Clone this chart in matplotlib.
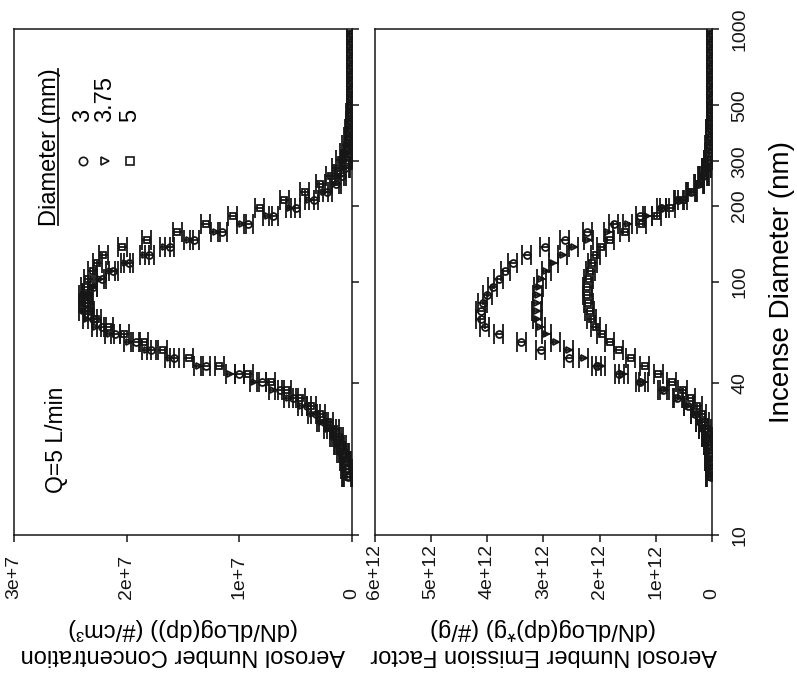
import numpy as np
import matplotlib.pyplot as plt
from matplotlib.ticker import NullLocator

plt.rcParams['font.family'] = ['Liberation Sans', 'DejaVu Sans']
plt.rcParams['xtick.labelsize'] = 14
plt.rcParams['ytick.labelsize'] = 14

# particle diameter channels (nm)
diameter = [17.0, 18.3, 19.6, 21.1, 22.7, 24.4, 26.2, 28.1, 30.2, 32.5,
            34.9, 37.5, 40.3, 43.3, 46.6, 50.0, 53.8, 57.8, 62.1, 66.7,
            71.7, 77.0, 82.8, 89.0, 95.6, 102.7, 110.4, 118.6, 127.5, 137.0,
            147.2, 158.2, 170.0, 182.7, 196.3, 211.0, 226.7, 243.6, 261.8, 281.3,
            302.3, 324.9, 349.1, 375.2, 403.1, 433.2, 465.6, 500.3, 537.6, 577.7,
            620.8, 667.2, 716.9, 770.4, 827.9, 889.7, 956.1]

# number concentration, units of 1e7 #/cm3
conc_3 = [0.04, 0.05, 0.06, 0.08, 0.11, 0.14, 0.18, 0.25, 0.32, 0.40,
          0.52, 0.64, 0.80, 1.00, 1.30, 1.58, 1.78, 1.92, 2.10, 2.22,
          2.30, 2.33, 2.35, 2.34, 2.30, 2.22, 2.12, 1.98, 1.80, 1.62,
          1.40, 1.15, 0.92, 0.70, 0.50, 0.34, 0.22, 0.14, 0.09, 0.06,
          0.04, 0.03, 0.02, 0.015, 0.012, 0.010, 0.008, 0.006, 0.005, 0.004,
          0.004, 0.003, 0.003, 0.002, 0.002, 0.002, 0.001]
conc_375 = [0.05, 0.06, 0.07, 0.09, 0.12, 0.16, 0.21, 0.27, 0.35, 0.44,
            0.56, 0.70, 0.87, 1.08, 1.36, 1.62, 1.82, 1.98, 2.15, 2.27,
            2.35, 2.38, 2.38, 2.35, 2.30, 2.24, 2.14, 2.01, 1.84, 1.66,
            1.45, 1.21, 0.98, 0.75, 0.55, 0.38, 0.25, 0.16, 0.11, 0.07,
            0.05, 0.035, 0.025, 0.018, 0.012, 0.010, 0.008, 0.006, 0.005, 0.004,
            0.004, 0.003, 0.003, 0.002, 0.002, 0.002, 0.001]
conc_5 = [0.03, 0.04, 0.05, 0.07, 0.09, 0.12, 0.16, 0.21, 0.28, 0.36,
          0.46, 0.58, 0.72, 0.92, 1.18, 1.45, 1.68, 1.85, 2.02, 2.16,
          2.27, 2.34, 2.37, 2.38, 2.37, 2.34, 2.30, 2.26, 2.21, 2.04,
          1.82, 1.55, 1.30, 1.06, 0.82, 0.60, 0.42, 0.28, 0.19, 0.14,
          0.10, 0.07, 0.045, 0.03, 0.02, 0.015, 0.010, 0.008, 0.006, 0.005,
          0.004, 0.004, 0.003, 0.003, 0.002, 0.002, 0.002]

# emission factor, units of 1e12 #/g
ef_3 = [0.02, 0.03, 0.04, 0.05, 0.07, 0.10, 0.15, 0.20, 0.30, 0.42,
        0.62, 0.88, 1.28, 1.65, 2.05, 2.55, 3.05, 3.40, 3.80, 4.05,
        4.12, 4.12, 4.08, 4.00, 3.90, 3.80, 3.68, 3.55, 3.30, 2.98,
        2.62, 2.22, 1.75, 1.28, 0.90, 0.60, 0.38, 0.24, 0.16, 0.10,
        0.07, 0.05, 0.04, 0.03, 0.02, 0.015, 0.012, 0.010, 0.008, 0.007,
        0.006, 0.005, 0.004, 0.003, 0.003, 0.002, 0.002]
ef_375 = [0.02, 0.03, 0.04, 0.05, 0.07, 0.10, 0.15, 0.21, 0.30, 0.42,
          0.60, 0.85, 1.22, 1.58, 1.98, 2.28, 2.55, 2.78, 2.95, 3.06,
          3.11, 3.12, 3.11, 3.10, 3.08, 3.04, 2.95, 2.83, 2.66, 2.46,
          2.20, 1.85, 1.50, 1.15, 0.84, 0.58, 0.37, 0.23, 0.15, 0.10,
          0.07, 0.05, 0.035, 0.025, 0.02, 0.015, 0.012, 0.010, 0.008, 0.007,
          0.006, 0.005, 0.004, 0.003, 0.003, 0.002, 0.002]
ef_5 = [0.01, 0.015, 0.02, 0.03, 0.04, 0.06, 0.09, 0.13, 0.18, 0.26,
        0.38, 0.52, 0.72, 0.96, 1.20, 1.45, 1.66, 1.82, 1.96, 2.07,
        2.14, 2.18, 2.20, 2.22, 2.22, 2.20, 2.17, 2.13, 2.07, 1.97,
        1.82, 1.55, 1.25, 0.98, 0.74, 0.52, 0.35, 0.22, 0.14, 0.09,
        0.06, 0.045, 0.035, 0.025, 0.02, 0.015, 0.012, 0.010, 0.008, 0.007,
        0.006, 0.005, 0.004, 0.003, 0.003, 0.002, 0.002]

conc_err = 0.04   # 1e7
ef_err = 0.08     # 1e12

sizes_mm = ['3', '3.75', '5']
markers = ['o', '>', 's']

d_ticks = [10, 40, 100, 200, 300, 500, 1000]
d_labels = ['10', '40', '100', '200', '300', '500', '1000']
conc_ticks = [3e7, 2e7, 1e7, 0]
conc_labels = ['3e+7', '2e+7', '1e+7', '0']
ef_ticks = [6e12, 5e12, 4e12, 3e12, 2e12, 1e12, 0]
ef_labels = ['6e+12', '5e+12', '4e+12', '3e+12', '2e+12', '1e+12', '0']

ink = '#161616'

fig = plt.figure(figsize=(7.97, 6.77), dpi=100)
ax1 = fig.add_axes([0.0176, 0.2097, 0.4241, 0.7474])
ax2 = fig.add_axes([0.4705, 0.2097, 0.4228, 0.7474])

conc_sets = [conc_5, conc_375, conc_3]
ef_sets = [ef_5, ef_375, ef_3]
order_mk = ['s', '>', 'o']

for vals, mk in zip(conc_sets, order_mk):
    ax1.errorbar(np.array(vals) * 1e7, diameter, xerr=conc_err * 1e7, fmt=mk,
                 ms=5, mfc='none', mec=ink, mew=1.3, ecolor=ink,
                 elinewidth=1.3, capsize=7, capthick=1.3)
for vals, mk in zip(ef_sets, order_mk):
    ax2.errorbar(np.array(vals) * 1e12, diameter, xerr=ef_err * 1e12, fmt=mk,
                 ms=5, mfc='none', mec=ink, mew=1.3, ecolor=ink,
                 elinewidth=1.3, capsize=7, capthick=1.3)

for ax, ticks, labels, lim in [(ax1, conc_ticks, conc_labels, (3e7, 0)),
                               (ax2, ef_ticks, ef_labels, (6e12, 0))]:
    ax.set_yscale('log')
    ax.set_ylim(10, 1000)
    ax.set_xlim(*lim)
    ax.yaxis.tick_right()
    ax.set_yticks(d_ticks)
    ax.yaxis.set_minor_locator(NullLocator())
    ax.set_xticks(ticks)
    ax.set_xticklabels(labels)
    ax.tick_params(axis='both', direction='out', length=5, width=1.1,
                   colors=ink)
    ax.tick_params(axis='x', pad=41)
    for lab in ax.get_xticklabels():
        lab.set_rotation(90)
        lab.set_rotation_mode('anchor')
        lab.set_ha('left')
        lab.set_va('center')
    for sp in ax.spines.values():
        sp.set_color(ink)
        sp.set_linewidth(1.1)

ax1.tick_params(axis='y', labelright=False)
ax2.set_yticklabels(d_labels, rotation=90, va='center')
ax2.tick_params(axis='y', pad=9)

ax1.set_xlabel('Aerosol Number Concentration\n(dN/dLog(dp)) (#/cm³)',
               rotation=180, fontsize=17, labelpad=14)
ax2.set_xlabel('Aerosol Number Emission Factor\n(dN/dLog(dp)*g) (#/g)',
               rotation=180, fontsize=17, labelpad=14)
ax2.yaxis.set_label_position('right')
ax2.set_ylabel('Incense Diameter (nm)', fontsize=20, labelpad=15)

# legend drawn by hand, rotated like the rest of the figure
ax1.text(0.1065, 0.766, 'Diameter (mm)', rotation=90, fontsize=17,
         ha='center', va='center', transform=ax1.transAxes)
ax1.plot([0.131, 0.131], [0.612, 0.921], color=ink, lw=1.3,
         transform=ax1.transAxes)
leg_x = [0.204, 0.269, 0.343]
for x, mk, lab in zip(leg_x, markers, sizes_mm):
    ax1.plot([x], [0.739], marker=mk, ms=6, mfc='none', mec=ink, mew=1.2,
             transform=ax1.transAxes, clip_on=False)
    ax1.text(x, 0.816, lab, rotation=90, rotation_mode='anchor', ha='left',
             va='center', fontsize=17, transform=ax1.transAxes)

ax1.text(0.127, 0.083, 'Q=5 L/min', rotation=90, rotation_mode='anchor',
         ha='left', va='center', fontsize=16.5, transform=ax1.transAxes)

fig.savefig('out.png', dpi=100)
